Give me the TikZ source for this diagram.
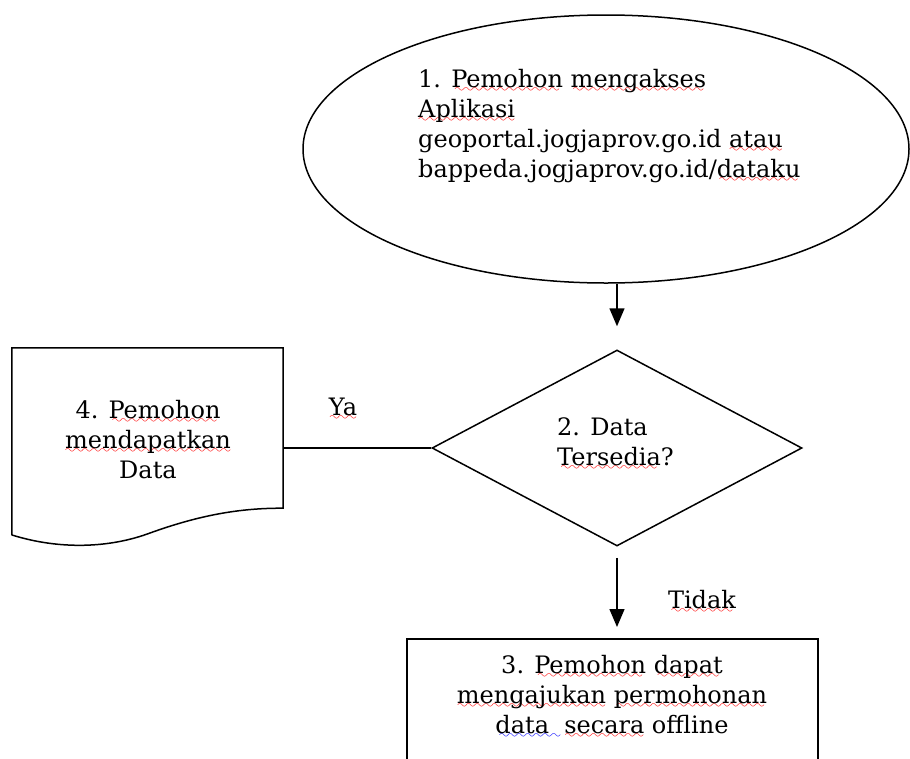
\documentclass[tikz,border=0pt]{standalone}
\usepackage{fontspec}
\setmainfont{DejaVu Serif}
\usetikzlibrary{shapes.geometric,arrows.meta}
\font\wavefont=lasy10 at 13pt
\newcommand\wavewith[2]{\setbox0\hbox{#2}\rlap{\textcolor{#1}{\lower5pt\hbox to\wd0{\cleaders\hbox{\wavefont\char58}\hfill}}}\box0\relax}
\newcommand\rw[1]{\wavewith{red}{#1}}
\newcommand\bw[1]{\wavewith{blue}{#1}}
\begin{document}
\begin{tikzpicture}[x=1pt,y=-1pt,
  shapeline/.style={draw=black,line width=1.5pt},
  txt/.style={font=\fontsize{24}{30}\selectfont,inner sep=0pt,text=black},
  arr/.style={line width=1.5pt,-{Triangle[length=18pt,width=15pt]}}]
\useasboundingbox (0,0) rectangle (910,758);
\clip (0,0) rectangle (910,758);
% 1. ellipse
\node[shapeline, ellipse, minimum width=606pt, minimum height=268pt, inner sep=0pt] (ell) at (606,149) {};
\node[txt, anchor=north west, align=left] (t1) at (418,69)
  {1. \rw{Pemohon} \rw{mengakses}\\ \rw{Aplikasi}\\ geoportal.jogjaprov.go.id \rw{atau}\\ bappeda.jogjaprov.go.id/\rw{dataku}};
% 2. decision
\node[shapeline, diamond, minimum width=370pt, minimum height=196pt, inner sep=0pt] (dia) at (617,448) {};
\node[txt, anchor=north west, align=left] (t2) at (557,417) {2. Data\\ \rw{Tersedia}?};
% 4. document
\node[inner sep=0pt, minimum width=271pt, minimum height=160pt] (doc) at (147.5,428) {};
\draw[shapeline, line join=miter] (doc.south east) -- (doc.north east) -- (doc.north west) -- (12,535)
  .. controls (60,550) and (110,548) .. (150,533)
  .. controls (200,515) and (240,508) .. (doc.south east) -- cycle;
\node[txt, anchor=north, align=center] (t4) at (148,400) {4. \rw{Pemohon}\\ \rw{mendapatkan}\\ Data};
% 3. box
\node[shapeline, rectangle, minimum width=411pt, minimum height=160pt, inner sep=0pt, anchor=north] (box) at (612.5,638) {};
\node[txt, anchor=north, align=center] (t3) at (612,655)
  {3. \rw{Pemohon} \rw{dapat}\\ \rw{mengajukan} \rw{permohonan}\\ \bw{data\ \ }\rw{secara} offline};
% connectors
\draw[arr, shorten >=23pt] (ell.south -| dia.north) -- (dia.north);
\draw[arr, shorten <=11pt, shorten >=11pt] (dia.south) -- (box.north -| dia.south);
\draw[shapeline] (doc.east |- dia.west) -- (dia.west);
\node[txt, anchor=base] (ya) at (343,415) {\rw{Ya}};
\node[txt, anchor=base] (tidak) at (702,608) {\rw{Tidak}};
\end{tikzpicture}
\end{document}
